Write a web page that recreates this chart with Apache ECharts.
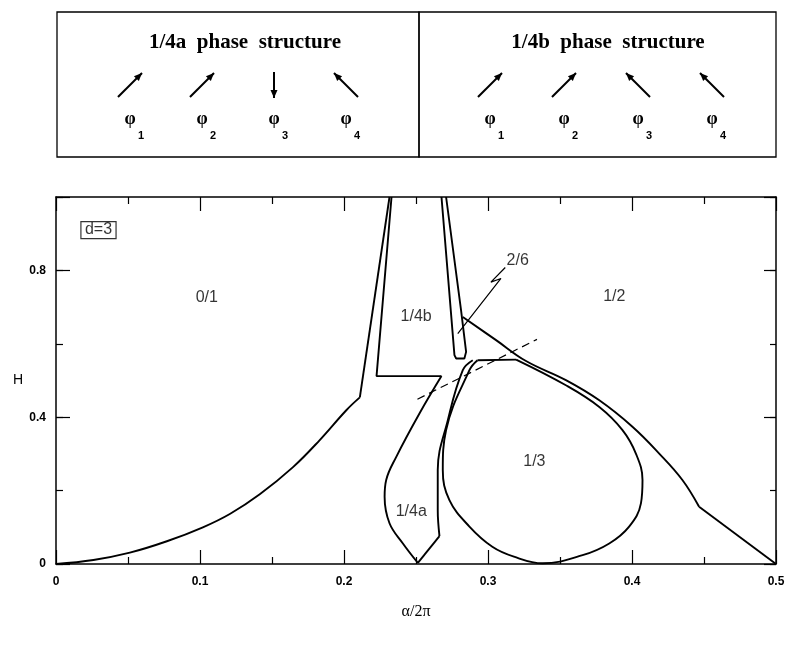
<!doctype html>
<html lang="en">
<head>
    <meta charset="UTF-8">
    <title>d=3 phase diagram</title>
    <script src="https://cdn.jsdelivr.net/npm/echarts@6/dist/echarts.min.js"></script>
</head>
<body style="margin:0">
<div id="main" style="width:792px;height:645px;"></div>
<script type="text/javascript">
    // phase boundaries, [alpha/2pi, H]; smooth pieces and straight pieces kept apart
    var curve01 = [[0,0],[0.026,0.011],[0.0513,0.031],[0.077,0.062],[0.102,0.1],[0.121,0.137],
        [0.1415,0.19],[0.1646,0.264],[0.183,0.337],[0.2016,0.419],[0.211,0.454]];
    var edge01 = [[0.211,0.454],[0.2316,1.0]];
    var edge14b = [[0.233,1.0],[0.2226,0.512],[0.2677,0.512]];
    var left14a = [[0.2677,0.512],[0.2524,0.410],[0.2363,0.292],[0.2293,0.229],[0.2282,0.183],
        [0.2316,0.111],[0.2409,0.056],[0.2513,0.003]];
    var notch14a = [[0.2513,0.003],[0.2663,0.076]];
    var right14a = [[0.2663,0.076],[0.2651,0.147],[0.2651,0.256],[0.2721,0.392],[0.2825,0.528],
        [0.2894,0.555]];
    var tube26 = [[0.2677,1.0],[0.2767,0.569],[0.2779,0.560],[0.2836,0.560],[0.2848,0.578],
        [0.2813,0.691],[0.2709,1.0]];
    var curve12 = [[0.2825,0.673],[0.3056,0.610],[0.3264,0.553],[0.3541,0.501],[0.3773,0.446],
        [0.4003,0.374],[0.4189,0.301],[0.435,0.229],[0.4466,0.156]];
    var edge12 = [[0.4466,0.156],[0.5,0]];
    var top13 = [[0.2927,0.555],[0.3195,0.557]];
    var loop13 = [[0.3195,0.557],[0.3541,0.487],[0.3773,0.428],[0.3934,0.365],
        [0.4027,0.301],[0.4073,0.229],[0.4062,0.165],[0.398,0.102],[0.3842,0.056],[0.3657,0.024],
        [0.338,0.002],[0.318,0.02],[0.303,0.047],[0.2871,0.102],[0.2732,0.174],[0.2686,0.256],
        [0.2709,0.365],[0.2871,0.528],[0.2927,0.555]];
    var dashedLine = [[0.251,0.449],[0.334,0.612]];
    var leader26 = [[0.312,0.808],[0.302,0.768],[0.309,0.778],[0.279,0.628]];
    var regionLabels = [[0.1047,0.727,'0/1'],[0.3877,0.729,'1/2'],[0.2501,0.673,'1/4b'],
        [0.3206,0.827,'2/6'],[0.3322,0.278,'1/3'],[0.2467,0.142,'1/4a']];
    var dLabel = [[0.0295,0.91,'d=3']];

    // top panels: spin directions in degrees
    var phaseA = [45, 45, -90, 135];
    var phaseB = [45, 45, 135, 135];
    var phiIdx = ['1', '2', '3', '4'];

    function panel(left, right, title, titleX, angles, x0, step) {
        var els = [];
        els.push({type: 'rect', shape: {x: left, y: 12, width: right - left, height: 145},
            style: {fill: 'none', stroke: '#000', lineWidth: 1.3}});
        els.push({type: 'text', x: titleX, y: 43, style: {text: title, fill: '#000',
            font: 'bold 21px "Liberation Serif"', align: 'center', verticalAlign: 'middle',
            textAlign: 'center', textVerticalAlign: 'middle'}});
        for (var i = 0; i < angles.length; i++) {
            var a = angles[i];
            var cx = x0 + step * i, cy = 85;
            var len = (a % 90 === 0) ? 26 : 34;
            var r = a * Math.PI / 180;
            var ux = Math.cos(r), uy = -Math.sin(r);
            var x1 = cx - ux * len / 2, y1 = cy - uy * len / 2;
            var x2 = cx + ux * len / 2, y2 = cy + uy * len / 2;
            els.push({type: 'line', shape: {x1: x1, y1: y1, x2: x2, y2: y2},
                style: {stroke: '#000', lineWidth: 2}});
            var hl = 8, hw = 3.5;
            var bx = x2 - ux * hl, by = y2 - uy * hl;
            els.push({type: 'polygon', shape: {points: [[x2, y2], [bx - uy * hw, by + ux * hw], [bx + uy * hw, by - ux * hw]]},
                style: {fill: '#000'}});
            els.push({type: 'text', x: cx, y: 119, style: {text: 'φ', fill: '#000',
                font: 'bold 18px "Liberation Serif"', align: 'center', verticalAlign: 'middle',
                textAlign: 'center', textVerticalAlign: 'middle'}});
            els.push({type: 'text', x: cx + 11, y: 136, style: {text: phiIdx[i], fill: '#000',
                font: 'bold 11px "Liberation Sans"', align: 'center', verticalAlign: 'middle',
                textAlign: 'center', textVerticalAlign: 'middle'}});
        }
        return els;
    }

    var graphics = panel(57, 419, '1/4a  phase  structure', 245, phaseA, 130, 72)
        .concat(panel(419, 776, '1/4b  phase  structure', 608, phaseB, 490, 74));

    function curve(data, smooth, extra) {
        var s = {type: 'line', data: data, showSymbol: false, symbol: 'none', silent: true,
            smooth: smooth, xAxisIndex: 0, yAxisIndex: 0,
            lineStyle: {color: '#000', width: 1.9}};
        if (extra) s.lineStyle = Object.assign(s.lineStyle, extra);
        return s;
    }

    var labelFont = {fontFamily: '"Liberation Sans"', fontSize: 12, fontWeight: 'bold', color: '#000'};
    var axisBase = {type: 'value', splitLine: {show: false},
        axisLine: {show: true, onZero: false, lineStyle: {color: '#000', width: 1.5}}};

    function xAx(pos, showLabel) {
        return Object.assign({}, axisBase, {
            position: pos, min: 0, max: 0.5, interval: 0.1,
            axisTick: {inside: true, length: 14, lineStyle: {color: '#000', width: 1.2}},
            minorTick: {show: true, splitNumber: 2, length: 7, lineStyle: {color: '#000', width: 1.2}},
            axisLabel: Object.assign({show: showLabel, margin: 12}, labelFont)
        });
    }

    function yAx(pos, interval, tickLen, withLine, showLabel) {
        return Object.assign({}, axisBase, {
            position: pos, min: 0, max: 1, interval: interval,
            axisLine: {show: withLine, onZero: false, lineStyle: {color: '#000', width: 1.5}},
            axisTick: {inside: true, length: tickLen, lineStyle: {color: '#000', width: 1.2}},
            axisLabel: Object.assign({show: showLabel, margin: 10, formatter: function (v) {
                var k = Math.round(v * 10);
                return (k % 4 === 0 && k < 10) ? String(v) : '';
            }}, labelFont)
        });
    }

    var yLeft = yAx('left', 0.2, 7, true, true);
    yLeft.name = 'H';
    yLeft.nameLocation = 'middle';
    yLeft.nameGap = 33;
    yLeft.nameRotate = 0;
    yLeft.nameTextStyle = {fontFamily: '"Liberation Sans"', fontSize: 14, color: '#000'};

    var xBottom = xAx('bottom', true);
    xBottom.name = 'α/2π';
    xBottom.nameLocation = 'middle';
    xBottom.nameGap = 40;
    xBottom.nameTextStyle = {fontFamily: '"Liberation Serif"', fontSize: 16, color: '#000'};

    var myChart = echarts.init(document.getElementById('main'));
    var option = {
        backgroundColor: '#fff',
        animation: false,
        grid: {left: 56, right: 16, top: 197, bottom: 81},
        graphic: graphics,
        xAxis: [xBottom, xAx('top', false)],
        yAxis: [yLeft, yAx('left', 0.4, 14, false, false),
            yAx('right', 0.2, 6, true, false), yAx('right', 0.4, 12, false, false)],
        series: [
            curve(curve01, 0.4),
            curve(edge01, false),
            curve(edge14b, false),
            curve(left14a, 0.4),
            curve(notch14a, false),
            curve(right14a, 0.4),
            curve(tube26, false),
            curve(curve12, 0.4),
            curve(edge12, false),
            curve(top13, false),
            curve(loop13, 0.4),
            curve(dashedLine, false, {width: 1.2, type: [8, 5]}),
            curve(leader26, false, {width: 1.2}),
            {type: 'scatter', data: regionLabels, symbolSize: 0, silent: true,
                label: {show: true, position: 'inside', color: '#000', fontSize: 16,
                    fontFamily: '"Liberation Sans"', formatter: function (p) { return p.value[2]; }}},
            {type: 'scatter', data: dLabel, symbolSize: 0, silent: true,
                label: {show: true, position: 'inside', color: '#000', fontSize: 16,
                    fontFamily: '"Liberation Sans"', borderColor: '#000', borderWidth: 1.2,
                    padding: [1, 4, 0, 4], formatter: function (p) { return p.value[2]; }}}
        ]
    };
    myChart.setOption(option);
</script>
</body>
</html>
